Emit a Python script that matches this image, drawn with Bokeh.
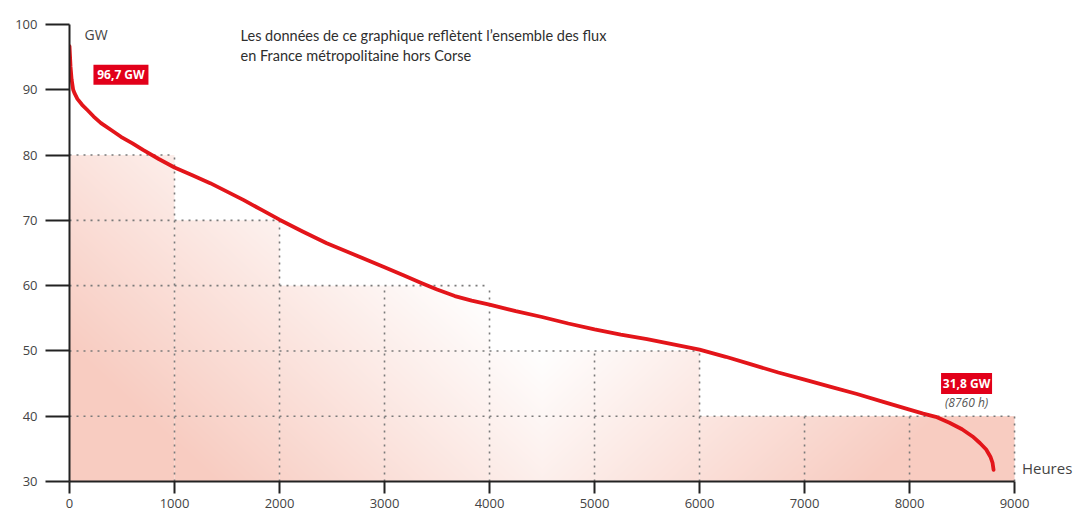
import numpy as np
from bokeh.plotting import figure
from bokeh.models import Range1d, FixedTicker
from bokeh.core.properties import value
from bokeh.embed import file_html
from bokeh.resources import INLINE

# ---- data ----
hours = [0, 10, 20, 35, 50, 75, 120, 170, 230, 300, 400, 490, 600, 700, 850,
         1000, 1170, 1340, 1500, 1660, 1830, 2000, 2220, 2450, 2720, 3000, 3180,
         3350, 3500, 3670, 3830, 4000, 4250, 4500, 4750, 5000, 5250, 5500, 5750,
         6000, 6250, 6500, 6750, 7000, 7250, 7500, 7750, 8000, 8130, 8250, 8380,
         8500, 8600, 8670, 8730, 8770, 8790, 8800]
gw = [96.7, 93.5, 91.6, 90.0, 89.4, 88.6, 87.7, 86.9, 85.9, 84.9, 83.8, 82.8,
      81.8, 80.8, 79.4, 78.1, 76.9, 75.7, 74.4, 73.1, 71.6, 70.1, 68.3, 66.5,
      64.7, 62.8, 61.6, 60.4, 59.4, 58.4, 57.7, 57.1, 56.1, 55.2, 54.2, 53.3,
      52.5, 51.8, 51.0, 50.2, 49.1, 47.9, 46.7, 45.6, 44.5, 43.4, 42.2, 41.0,
      40.4, 39.9, 39.0, 38.0, 36.9, 35.9, 34.9, 33.8, 32.9, 31.8]

step_x0 = [0, 1000, 2000, 4000, 6000]
step_x1 = [1000, 2000, 4000, 6000, 9000]
step_top = [80, 70, 60, 50, 40]

x_ticks = [0, 1000, 2000, 3000, 4000, 5000, 6000, 7000, 8000, 9000]
y_ticks = [30, 40, 50, 60, 70, 80, 90, 100]

title_lines = ["Les données de ce graphique reflètent l’ensemble des flux",
               "en France métropolitaine hors Corse"]
peak_label = "96,7 GW"
min_label = "31,8 GW"
min_sub = "(8760 h)"

# ---- figure ----
Y0 = 30
p = figure(width=1076, height=523, output_backend="svg", toolbar_location=None,
           x_range=Range1d(0, 9590), y_range=Range1d(30, 100),
           min_border_left=69, min_border_right=0, min_border_top=24,
           min_border_bottom=42)
p.outline_line_color = None
p.xgrid.visible = False
p.ygrid.visible = False
p.background_fill_color = "white"

# ---- gradient fill of steps ----
PINK = np.array([248, 204, 193], dtype=float)
WHITE = np.array([255, 255, 255], dtype=float)
for x0, x1, top in zip(step_x0, step_x1, step_top):
    nx = max(2, int(round((x1 - x0) * 0.105)))
    ny = max(2, int(round((top - Y0) * 6.53)))
    xs = np.linspace(x0, x1, nx)
    ys = np.linspace(Y0, top, ny)
    X, Y = np.meshgrid(xs, ys)
    t = np.clip(np.abs(X - 4500) / 4500 + (50 - Y) * 0.015, 0, 1)
    img = np.empty((ny, nx), dtype=np.uint32)
    view = img.view(dtype=np.uint8).reshape((ny, nx, 4))
    for c in range(3):
        view[:, :, c] = (WHITE[c] - t * (WHITE[c] - PINK[c])).astype(np.uint8)
    view[:, :, 3] = 255
    p.image_rgba(image=[img], x=x0, y=Y0, dw=x1 - x0, dh=top - Y0)

# ---- dotted guide lines ----
h_x1 = step_x1
h_y = step_top
p.segment(x0=[0] * len(h_y), y0=h_y, x1=h_x1, y1=h_y,
          line_color="#7a7a7a", line_width=1.6, line_dash="2 5")
v_x = x_ticks[1:]
v_top = []
for t in v_x:
    for x0, x1, top in zip(step_x0, step_x1, step_top):
        if x0 < t <= x1:
            v_top.append(top)
            break
p.segment(x0=v_x, y0=[Y0] * len(v_x), x1=v_x, y1=v_top,
          line_color="#7a7a7a", line_width=1.6, line_dash="2 5")

# ---- curve ----
p.line(hours, gw, line_color="#e3151a", line_width=3.8, line_join="round",
       line_cap="round")

# ---- labels ----
p.rect(x=[490, 8543], y=[92.3, 45.0], width=[55, 51], height=[20, 21],
       width_units="screen", height_units="screen",
       fill_color="#e2001a", line_color=None)
p.text(x=[490, 8543], y=[92.3, 45.0], text=[peak_label, min_label],
       text_font=value("Open Sans"), text_font_style="bold",
       text_font_size="12px", text_color="white",
       text_align="center", text_baseline="middle")
p.text(x=[8543], y=[42.1], text=[min_sub], text_font=value("Open Sans"),
       text_font_style="italic", text_font_size="12px", text_color="#555555",
       text_align="center", text_baseline="middle")
p.text(x=[143], y=[98.4], text=["GW"], text_font=value("Open Sans"),
       text_font_size="14px", text_color="#444444", text_baseline="middle")
p.text(x=[1629, 1629], y=[98.3, 95.25], text=title_lines,
       text_font=value("Lato"), text_font_size="14.5px", text_color="#2e2e2e",
       text_baseline="middle")
p.text(x=[9070], y=[32.1], text=["Heures"], text_font=value("Open Sans"),
       text_font_size="15px", text_color="#444444", text_baseline="middle")

# ---- axes ----
for ax in (p.xaxis[0], p.yaxis[0]):
    ax.axis_line_color = "#222222"
    ax.axis_line_width = 2
    ax.major_tick_line_color = "#222222"
    ax.major_tick_line_width = 2
    ax.major_tick_in = 0
    ax.minor_tick_in = 0
    ax.minor_tick_out = 0
    ax.major_label_text_font = "Open Sans"
    ax.major_label_text_font_size = "13px"
    ax.major_label_text_color = "#444444"

p.xaxis.ticker = FixedTicker(ticks=x_ticks)
p.xaxis.bounds = (0, 9000)
p.xaxis.major_tick_out = 12
p.xaxis.major_label_standoff = 5

p.yaxis.ticker = FixedTicker(ticks=y_ticks)
p.yaxis.bounds = (30, 100)
p.yaxis.major_tick_out = 24
p.yaxis.major_label_standoff = 8

open("out.html", "w").write(file_html(p, INLINE))
